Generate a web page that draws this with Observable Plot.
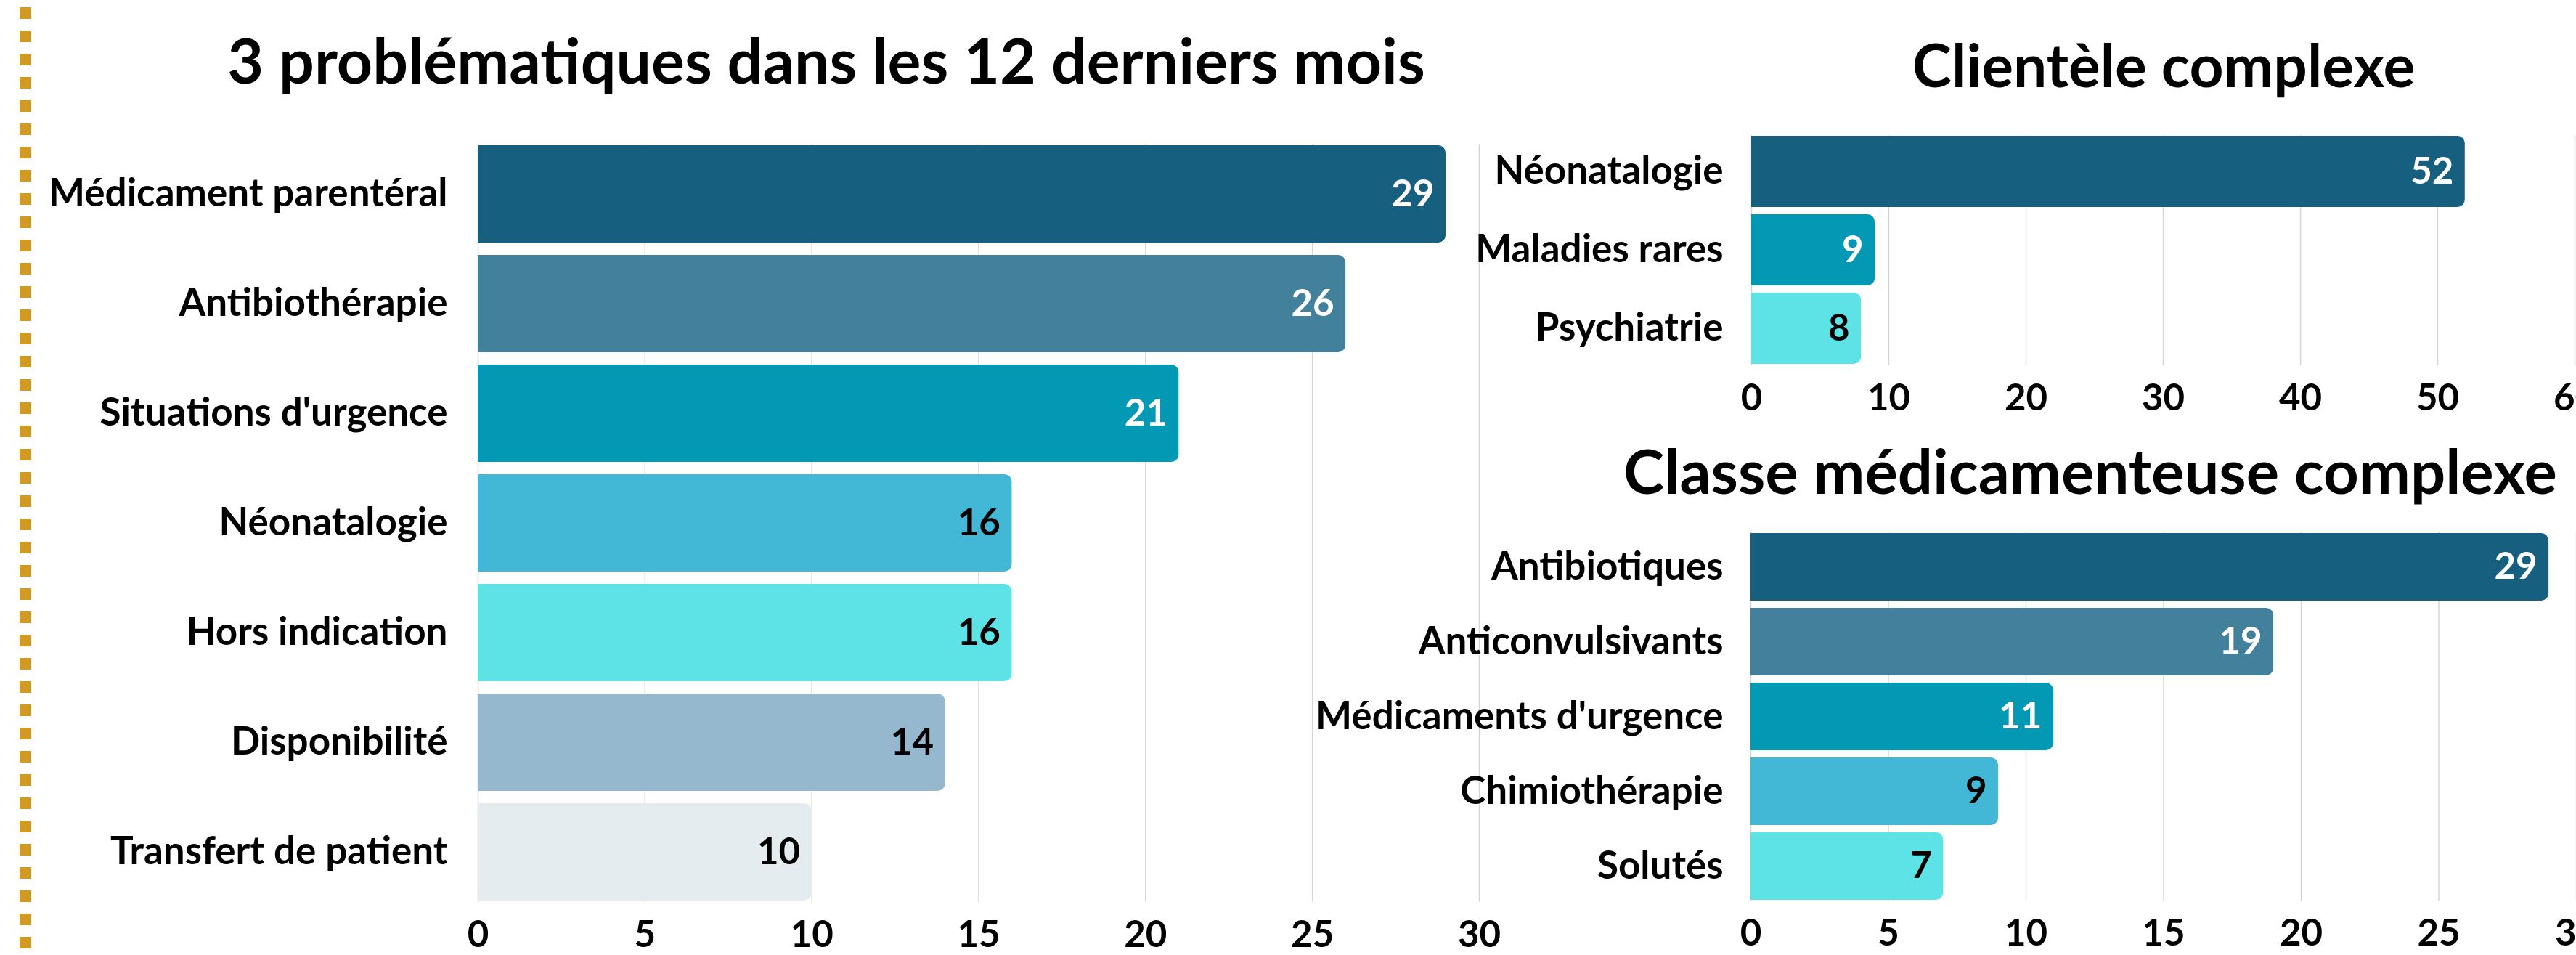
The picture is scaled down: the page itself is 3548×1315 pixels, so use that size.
<!DOCTYPE html>
<html>
<head>
<meta charset="utf-8">
<script src="https://cdn.jsdelivr.net/npm/d3@7"></script>
<script src="https://cdn.jsdelivr.net/npm/@observablehq/plot@0.6"></script>
<style>
  html, body { margin: 0; padding: 0; background: #fff; overflow: hidden; }
  #root { position: relative; width: 3548px; height: 1315px; overflow: hidden; background: #fff; font-family: Lato, "Noto Sans", sans-serif; }
  .panel { position: absolute; }
  .panel svg { max-width: none !important; }
</style>
</head>
<body>
<div id="root">
  <svg id="deco" width="3548" height="1315" style="position:absolute;left:0;top:0"></svg>
  <div id="left" class="panel" style="left:0;top:0"></div>
  <div id="topright" class="panel" style="left:2000px;top:0"></div>
  <div id="bottomright" class="panel" style="left:2000px;top:600px"></div>
</div>
<script>
// ---------- data ----------
const titleLeft = "3 problématiques dans les 12 derniers mois";
const titleTopRight = "Clientèle complexe";
const titleBottomRight = "Classe médicamenteuse complexe";

const probCategories = ["Médicament parentéral", "Antibiothérapie", "Situations d'urgence", "Néonatalogie", "Hors indication", "Disponibilité", "Transfert de patient"];
const probValues = [29, 26, 21, 16, 16, 14, 10];
const probColors = ["#175F7F", "#42809C", "#0399B4", "#42B8D6", "#5DE2E6", "#95B8CF", "#E4ECF0"];
const probLabelColors = ["#ffffff", "#ffffff", "#ffffff", "#000000", "#000000", "#000000", "#000000"];
const probTicks = [0, 5, 10, 15, 20, 25, 30];

const clientCategories = ["Néonatalogie", "Maladies rares", "Psychiatrie"];
const clientValues = [52, 9, 8];
const clientColors = ["#175F7F", "#0399B4", "#5DE2E6"];
const clientLabelColors = ["#ffffff", "#ffffff", "#000000"];
const clientTicks = [0, 10, 20, 30, 40, 50, 60];

const classCategories = ["Antibiotiques", "Anticonvulsivants", "Médicaments d'urgence", "Chimiothérapie", "Solutés"];
const classValues = [29, 19, 11, 9, 7];
const classColors = ["#175F7F", "#42809C", "#0399B4", "#42B8D6", "#5DE2E6"];
const classLabelColors = ["#ffffff", "#ffffff", "#ffffff", "#000000", "#000000"];
const classTicks = [0, 5, 10, 15, 20, 25, 30];

const FONT = "Lato, 'Noto Sans', sans-serif";
const GRID = "#d6d6d6";
const DOTS = "#D19A22";

function rows(cats, vals, cols, lcols) {
  return cats.map((c, i) => ({cat: c, value: vals[i], color: cols[i], labelColor: lcols[i]}));
}

function barChart({data, ticks, domain, width, height, mt, mr, mb, ml, padY, padX}) {
  return Plot.plot({
    width, height,
    marginTop: mt, marginRight: mr, marginBottom: mb, marginLeft: ml,
    style: {background: "transparent", overflow: "visible", fontFamily: FONT, color: "#000"},
    x: {domain, ticks, label: null},
    y: {domain: data.map(d => d.cat), paddingInner: padY, paddingOuter: 0, label: null},
    color: {type: "identity"},
    marks: [
      Plot.gridX(ticks, {stroke: GRID, strokeOpacity: 1, strokeWidth: 1.5}),
      Plot.barX(data, {y: "cat", x: "value", fill: "color", rx2: 10}),
      Plot.text(data, {y: "cat", x: "value", text: d => String(d.value), fill: "labelColor",
        textAnchor: "end", dx: -16, fontSize: 51, fontWeight: "bold"}),
      Plot.axisX(ticks, {tickSize: 0, tickPadding: 25, fontSize: 51, fontWeight: "bold", label: null}),
      Plot.axisY({tickSize: 0, tickPadding: padX, fontSize: 53, fontWeight: "bold", label: null, textOverflow: null})
    ]
  });
}

document.getElementById("left").append(barChart({
  data: rows(probCategories, probValues, probColors, probLabelColors),
  ticks: probTicks, domain: [0, 30],
  width: 2100, height: 1315, mt: 198, mr: 63, mb: 73, ml: 658, padY: 0.11, padX: 42
}));

document.getElementById("topright").append(barChart({
  data: rows(clientCategories, clientValues, clientColors, clientLabelColors),
  ticks: clientTicks, domain: [0, 60],
  width: 1548, height: 600, mt: 186, mr: 2, mb: 97, ml: 412, padY: 0.09, padX: 39
}));

document.getElementById("bottomright").append(barChart({
  data: rows(classCategories, classValues, classColors, classLabelColors),
  ticks: classTicks, domain: [0, 30],
  width: 1548, height: 715, mt: 132, mr: 0, mb: 75, ml: 411, padY: 0.1, padX: 38
}));

// ---------- decoration: dotted rule and titles ----------
const deco = d3.select("#deco");
deco.append("line")
  .attr("x1", 35).attr("x2", 35).attr("y1", 10).attr("y2", 1315)
  .attr("stroke", DOTS).attr("stroke-width", 16).attr("stroke-dasharray", "16 16");

const titles = [
  {text: titleLeft, x: 1138, y: 115, size: 86},
  {text: titleTopRight, x: 2980, y: 120, size: 82},
  {text: titleBottomRight, x: 2879, y: 680, size: 85}
];
deco.selectAll("text.title").data(titles).join("text")
  .attr("class", "title")
  .attr("x", d => d.x).attr("y", d => d.y)
  .attr("text-anchor", "middle")
  .attr("font-family", FONT)
  .attr("font-weight", "bold")
  .attr("font-size", d => d.size)
  .attr("fill", "#000")
  .text(d => d.text);
</script>
</body>
</html>
